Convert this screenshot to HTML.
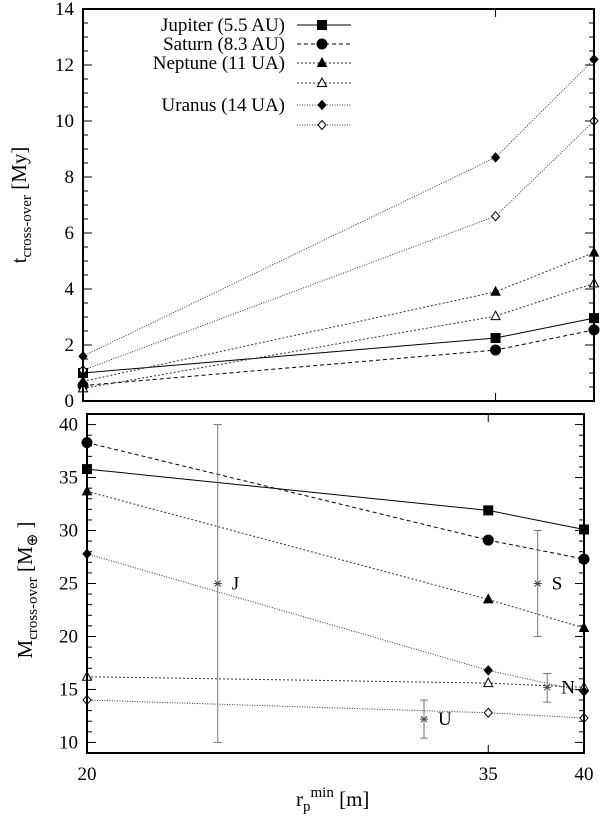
<!DOCTYPE html>
<html><head><meta charset="utf-8"><style>
body{margin:0;background:#fff}
svg{display:block}
</style></head><body>
<svg id="c" width="600" height="819" viewBox="0 0 600 819" xmlns="http://www.w3.org/2000/svg" font-family="Liberation Serif, serif"></svg>
<script>
const xCats=[20,35,40];
const seriesNames=["Jupiter (5.5 AU)","Saturn (8.3 AU)","Neptune (11 UA)","","Uranus (14 UA)",""];
const tTop_J=[1.0,2.25,2.96];
const tTop_S=[0.55,1.82,2.54];
const tTop_Nf=[0.7,3.9,5.3];
const tTop_No=[0.45,3.03,4.2];
const tTop_Uf=[1.6,8.7,12.2];
const tTop_Uo=[1.1,6.6,10.0];
const mBot_J=[35.8,31.9,30.1];
const mBot_S=[38.3,29.1,27.3];
const mBot_Nf=[33.7,23.5,20.8];
const mBot_No=[16.2,15.6,15.2];
const mBot_Uf=[27.8,16.8,14.8];
const mBot_Uo=[14.0,12.8,12.3];
const errLabels=["J","S","N","U"];
const errX=[24,37.5,38,32];
const errY=[25,25,15.2,12.2];
const errLo=[10,20,13.8,10.4];
const errHi=[40,30,16.5,14];
const topTicks=[0,2,4,6,8,10,12,14];
const botTicks=[10,15,20,25,30,35,40];

const svg=document.getElementById('c');
const NS="http://www.w3.org/2000/svg";
const FF="Liberation Serif, serif";
function mk(t,a,p){const e=document.createElementNS(NS,t);for(const k in a)e.setAttribute(k,a[k]);if(t==='text')e.setAttribute('font-family',FF);(p||svg).appendChild(e);return e;}
const lg=Math.log10;
function xs(L,R){return v=>L+(lg(v)-lg(20))/(lg(40)-lg(20))*(R-L);}
const T={L:83,R:594,T:9,B:401,min:0,max:14};
const Bt={L:87,R:584,T:414,B:753,min:9,max:41};
T.x=xs(T.L,T.R);Bt.x=xs(Bt.L,Bt.R);
T.y=v=>T.B-(v-T.min)/(T.max-T.min)*(T.B-T.T);
Bt.y=v=>Bt.B-(v-Bt.min)/(Bt.max-Bt.min)*(Bt.B-Bt.T);
const styles=[
 {dash:"",mk:"sq",fill:true},
 {dash:"4,3",mk:"ci",fill:true},
 {dash:"2,2",mk:"tr",fill:true},
 {dash:"2,2",mk:"tr",fill:false},
 {dash:"1,1.5",mk:"di",fill:true},
 {dash:"1,1.5",mk:"di",fill:false}];
function marker(s,x,y,g){
 const f=s.fill?"#000":"#fff",st={fill:f,stroke:"#000","stroke-width":1};
 let e;
 if(s.mk==="sq")e=mk('rect',Object.assign({x:x-4.5,y:y-4.5,width:9,height:9},st),g);
 else if(s.mk==="ci")e=mk('circle',Object.assign({cx:x,cy:y,r:5},st),g);
 else if(s.mk==="tr")e=mk('polygon',Object.assign({points:`${x},${y-5} ${x+4.5},${y+3.5} ${x-4.5},${y+3.5}`},st),g);
 else e=mk('polygon',Object.assign({points:`${x},${y-4.5} ${x+4},${y} ${x},${y+4.5} ${x-4},${y}`},st),g);
 
 
}
function panel(P,data,ticks,minor,name){
 const g=mk('g',{});
 
 
 for(let v=P.min;v<=P.max+1e-9;v+=minor){
  const y=P.y(v),maj=ticks.some(t=>Math.abs(t-v)<1e-6);const l=maj?9:5;
  mk('line',{x1:P.L,x2:P.L+l,y1:y,y2:y,stroke:"#000","stroke-width":1},g);
  mk('line',{x1:P.R,x2:P.R-l,y1:y,y2:y,stroke:"#000","stroke-width":1},g);
 }
 ticks.forEach(t=>{const e=mk('text',{x:P.L-9,y:P.y(t)+6,"text-anchor":"end","font-size":19},g);e.textContent=t;
  });
 xCats.forEach(c=>{const x=P.x(c);
  mk('line',{x1:x,x2:x,y1:P.B,y2:P.B-8,stroke:"#000"},g);
  mk('line',{x1:x,x2:x,y1:P.T,y2:P.T+8,stroke:"#000"},g);});
 data.forEach((d,i)=>{const s=styles[i];
  const pts=d.map((v,j)=>P.x(xCats[j])+","+P.y(v)).join(" ");
  const pl=mk('polyline',{points:pts,fill:"none",stroke:i<2?"#000":"#333","stroke-width":1,"stroke-dasharray":s.dash},g);
  
  d.forEach((v,j)=>marker(s,P.x(xCats[j]),P.y(v),g));});
 mk('rect',{x:P.L,y:P.T,width:P.R-P.L,height:P.B-P.T,fill:"none",stroke:"#000","stroke-width":2},g);
 return g;
}
panel(T,[tTop_J,tTop_S,tTop_Nf,tTop_No,tTop_Uf,tTop_Uo],topTicks,0.5,'top-panel');
panel(Bt,[mBot_J,mBot_S,mBot_Nf,mBot_No,mBot_Uf,mBot_Uo],botTicks,1,'bottom-panel');
errX.forEach((xv,i)=>{const x=Bt.x(xv);
 const g=mk('g',{});
 mk('line',{x1:x,x2:x,y1:Bt.y(errLo[i]),y2:Bt.y(errHi[i]),stroke:"#777"},g);
 [errLo[i],errHi[i]].forEach(v=>mk('line',{x1:x-4,x2:x+4,y1:Bt.y(v),y2:Bt.y(v),stroke:"#777"},g));
 const y=Bt.y(errY[i]);
 mk('path',{d:`M${x-3},${y-3}L${x+3},${y+3}M${x-3},${y+3}L${x+3},${y-3}M${x-4},${y}L${x+4},${y}`,stroke:"#444"},g);
 const t=mk('text',{x:x+14,y:y+6,"font-size":19},g);t.textContent=errLabels[i];});
xCats.forEach(c=>{const t=mk('text',{x:Bt.x(c),y:780,"text-anchor":"middle","font-size":19});t.textContent=c;
 });
const lgY=[25,44,63,83,105,125];
const lgG=mk('g',{});
seriesNames.forEach((n,i)=>{const y=lgY[i],s=styles[i];
 if(n){const t=mk('text',{x:285,y:y+6,"text-anchor":"end","font-size":19},lgG);t.textContent=n;}
 mk('line',{x1:297,x2:351,y1:y,y2:y,stroke:i<2?"#000":"#333","stroke-dasharray":s.dash},lgG);
 marker(s,322,y,lgG);});
</script>
<svg style="position:absolute;left:0;top:0" width="600" height="819" font-family="Liberation Serif, serif">
<text transform="translate(26,205) rotate(-90)" text-anchor="middle" font-size="21">t<tspan font-size="15" dy="5">cross-over</tspan><tspan dy="-5"> [My]</tspan></text>
<text transform="translate(32,590) rotate(-90)" text-anchor="middle" font-size="21">M<tspan font-size="15" dy="5">cross-over</tspan><tspan dy="-5"> [M</tspan><tspan font-size="15" dy="5">⊕</tspan><tspan dy="-5"> ]</tspan></text>
<text x="296" y="806" font-size="21">r<tspan font-size="15" dy="5">p</tspan><tspan font-size="15" dy="-14">min</tspan><tspan dy="9"> [m]</tspan></text>
</svg>
</body></html>
